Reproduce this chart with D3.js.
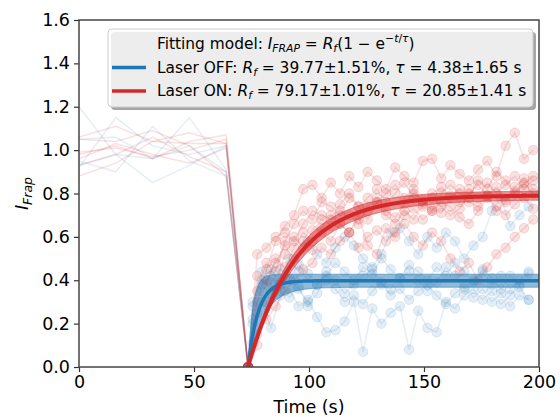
<!DOCTYPE html>
<html><head><meta charset="utf-8">
<script src="https://cdn.jsdelivr.net/npm/d3@7"></script>
<style>body{margin:0;background:#fff}svg{display:block}text{font-family:"DejaVu Sans",sans-serif}</style>
</head><body>
<svg id="c" width="560" height="417"></svg>
<script>
// ---------------- data ----------------
const preTimes = [0, 16, 32, 48, 64];
const bleachTime = 73.5;
const redPostTimes = [73.5,77.5,81.5,85.5,89.5,93.5,97.5,101.5,105.5,109.5,113.5,117.5,121.5,125.5,129.5,133.5,137.5,141.5,145.5,149.5,153.5,157.5,161.5,165.5,169.5,173.5,177.5,181.5,185.5,189.5,193.5,197.5];
const bluePostTimes = [73.5,75.5,79.5,83.5,87.5,91.5,95.5,99.5,103.5,107.5,111.5,115.5,119.5,123.5,127.5,131.5,135.5,139.5,143.5,147.5,151.5,155.5,159.5,163.5,167.5,171.5,175.5,179.5,183.5,187.5,191.5,195.5];

const bluePre = [
  [1.20, 0.98, 0.96, 1.02, 0.90],
  [1.05, 1.06, 0.96, 1.15, 0.91],
  [0.92, 1.15, 1.02, 0.98, 1.02],
  [0.95, 0.90, 1.11, 0.95, 0.88],
  [0.93, 0.98, 0.85, 0.93, 1.02]
];
const bluePost = [
  [0, 0.11, 0.30, 0.18, 0.33, 0.36, 0.28, 0.31, 0.23, 0.16, 0.17, 0.21, 0.30, 0.07, 0.27, 0.20, 0.25, 0.28, 0.08, 0.26, 0.18, 0.16, 0.30, 0.27, 0.33, 0.36, 0.31, 0.35, 0.29, 0.33, 0.37, 0.31],
  [0, 0.28, 0.40, 0.45, 0.38, 0.50, 0.44, 0.58, 0.52, 0.48, 0.55, 0.60, 0.56, 0.50, 0.46, 0.52, 0.62, 0.64, 0.58, 0.52, 0.60, 0.55, 0.62, 0.58, 0.50, 0.56, 0.60, 0.72, 0.78, 0.65, 0.70, 0.74],
  [0, 0.22, 0.38, 0.42, 0.35, 0.40, 0.36, 0.30, 0.38, 0.44, 0.40, 0.34, 0.38, 0.42, 0.45, 0.38, 0.36, 0.41, 0.44, 0.40, 0.35, 0.39, 0.46, 0.42, 0.36, 0.40, 0.44, 0.38, 0.42, 0.36, 0.40, 0.44],
  [0, 0.30, 0.44, 0.34, 0.40, 0.32, 0.37, 0.28, 0.34, 0.40, 0.36, 0.30, 0.33, 0.29, 0.35, 0.39, 0.33, 0.36, 0.31, 0.35, 0.38, 0.33, 0.29, 0.34, 0.37, 0.32, 0.36, 0.30, 0.34, 0.28, 0.33, 0.31],
  [0, 0.20, 0.35, 0.39, 0.45, 0.41, 0.47, 0.43, 0.38, 0.42, 0.48, 0.44, 0.40, 0.46, 0.43, 0.50, 0.45, 0.41, 0.47, 0.44, 0.40, 0.46, 0.42, 0.48, 0.44, 0.39, 0.45, 0.41, 0.36, 0.42, 0.38, 0.43]
];
const redPre = [
  [1.06, 1.11, 1.04, 1.03, 1.03],
  [0.98, 1.02, 0.96, 1.04, 1.07],
  [0.88, 0.94, 1.04, 1.08, 1.03],
  [0.99, 1.01, 0.97, 1.00, 1.05],
  [0.93, 0.98, 1.06, 0.97, 0.90],
  [1.05, 1.04, 1.09, 1.02, 0.88],
  [0.96, 1.03, 0.98, 0.94, 1.01]
];
const redPost = [
  [0, 0.52, 0.55, 0.60, 0.62, 0.58, 0.66, 0.72, 0.70, 0.68, 0.75, 0.80, 0.74, 0.78, 0.82, 0.76, 0.80, 0.85, 0.78, 0.74, 0.80, 0.83, 0.79, 0.76, 0.82, 0.78, 0.85, 0.80, 0.84, 0.88, 0.82, 0.86],
  [0, 0.30, 0.45, 0.58, 0.65, 0.70, 0.82, 0.84, 0.78, 0.85, 0.80, 0.88, 0.83, 0.90, 0.86, 0.82, 0.92, 0.88, 0.85, 0.95, 0.96, 0.87, 0.93, 0.89, 0.86, 0.91, 0.95, 0.88, 1.02, 1.08, 0.96, 1.00],
  [0, 0.15, 0.22, 0.28, 0.35, 0.40, 0.45, 0.48, 0.55, 0.52, 0.58, 0.62, 0.55, 0.60, 0.63, 0.58, 0.62, 0.66, 0.60, 0.56, 0.62, 0.58, 0.50, 0.44, 0.48, 0.40, 0.46, 0.52, 0.55, 0.60, 0.64, 0.68],
  [0, 0.10, 0.30, 0.38, 0.52, 0.60, 0.55, 0.63, 0.68, 0.65, 0.72, 0.70, 0.66, 0.74, 0.78, 0.72, 0.69, 0.75, 0.80, 0.77, 0.73, 0.71, 0.78, 0.82, 0.76, 0.74, 0.79, 0.83, 0.77, 0.81, 0.85, 0.80],
  [0, 0.42, 0.38, 0.50, 0.46, 0.55, 0.62, 0.58, 0.64, 0.70, 0.66, 0.62, 0.68, 0.72, 0.76, 0.70, 0.66, 0.72, 0.68, 0.75, 0.78, 0.74, 0.70, 0.73, 0.80, 0.84, 0.79, 0.72, 0.76, 0.83, 0.87, 0.82],
  [0, 0.25, 0.40, 0.48, 0.56, 0.50, 0.58, 0.54, 0.62, 0.58, 0.66, 0.62, 0.70, 0.56, 0.52, 0.64, 0.60, 0.70, 0.73, 0.68, 0.72, 0.76, 0.74, 0.69, 0.66, 0.72, 0.78, 0.74, 0.70, 0.75, 0.78, 0.73],
  [0, 0.35, 0.48, 0.44, 0.58, 0.66, 0.72, 0.68, 0.76, 0.74, 0.70, 0.78, 0.74, 0.68, 0.76, 0.80, 0.84, 0.78, 0.82, 0.76, 0.72, 0.80, 0.84, 0.80, 0.78, 0.86, 0.82, 0.90, 0.86, 0.80, 0.84, 0.88]
];
// fit parameters (from legend)
const fitOff = {R: 0.3977, dR: 0.0151, tau: 4.38, dTau: 1.65};
const fitOn  = {R: 0.7917, dR: 0.0101, tau: 20.85, dTau: 1.41};
const xTicks = [0, 50, 100, 150, 200];
const yTicks = [0, 0.2, 0.4, 0.6, 0.8, 1.0, 1.2, 1.4, 1.6];
const BLUE = "#1f77b4", RED = "#d62728";

// ---------------- chart ----------------
const svg = d3.select("#c");
const L = 79, R = 539, T = 20, B = 367;
const x = d3.scaleLinear().domain([0, 200]).range([L, R]);
const y = d3.scaleLinear().domain([0, 1.6]).range([B, T]);

svg.append("defs").append("clipPath").attr("id", "clip")
  .append("rect").attr("x", L).attr("y", T).attr("width", R - L).attr("height", B - T);
const plot = svg.append("g").attr("clip-path", "url(#clip)");
const line = d3.line().x(d => x(d[0])).y(d => y(d[1]));

function drawTraces(pre, post, postTimes, color, alpha) {
  pre.forEach((pv, i) => {
    const pts = preTimes.map((t, j) => [t, pv[j]])
      .concat(postTimes.map((t, j) => [t, post[i][j]]));
    plot.append("path").attr("d", line(pts)).attr("fill", "none")
      .attr("stroke", color).attr("stroke-opacity", alpha).attr("stroke-width", 1.5);
    plot.append("g").selectAll("circle").data(postTimes.map((t, j) => [t, post[i][j]]))
      .join("circle").attr("cx", d => x(d[0])).attr("cy", d => y(d[1])).attr("r", 4.8)
      .attr("fill", color).attr("fill-opacity", alpha)
      .attr("stroke", color).attr("stroke-opacity", alpha).attr("stroke-width", 1);
  });
}
drawTraces(bluePre, bluePost, bluePostTimes, BLUE, 0.12);
drawTraces(redPre, redPost, redPostTimes, RED, 0.14);

function fitVal(p, t, Rv, tau) { return t < bleachTime ? 0 : Rv * (1 - Math.exp(-(t - bleachTime) / tau)); }
const dense = d3.range(bleachTime, 200.01, 0.25);
function drawFit(p, color, lw, kR, kT) {
  const band = dense.map(t => {
    const vals = [];
    [p.R - kR * p.dR, p.R + kR * p.dR].forEach(Rv =>
      [p.tau - kT * p.dTau, p.tau + kT * p.dTau].forEach(tau => vals.push(fitVal(p, t, Rv, tau))));
    return [t, d3.min(vals), d3.max(vals)];
  });
  plot.append("path").attr("d", d3.area().x(d => x(d[0])).y0(d => y(d[1])).y1(d => y(d[2]))(band))
    .attr("fill", color).attr("fill-opacity", 0.5).attr("stroke", color).attr("stroke-opacity", 0.5).attr("stroke-width", 1);
  return () => plot.append("path").attr("d", line(dense.map(t => [t, fitVal(p, t, p.R, p.tau)])))
    .attr("fill", "none").attr("stroke", color).attr("stroke-width", lw);
}
const lineOff = drawFit(fitOff, BLUE, 3.5, 2, 1.4);
const lineOn = drawFit(fitOn, RED, 4, 2, 1);
lineOff(); lineOn();

// axes
const ax = svg.append("g").attr("transform", `translate(0,${B})`)
  .call(d3.axisBottom(x).tickValues(xTicks).tickSize(5).tickPadding(4).tickFormat(d3.format("d")));
const ay = svg.append("g").attr("transform", `translate(${L},0)`)
  .call(d3.axisLeft(y).tickValues(yTicks).tickSize(5).tickPadding(4).tickFormat(d3.format(".1f")));
[ax, ay].forEach(g => {
  g.select(".domain").remove();
  g.selectAll(".tick line").attr("stroke", "#333").attr("stroke-width", 1.2);
  g.selectAll(".tick text").attr("fill", "#000").style("font-size", "17.5px").style("font-family", "DejaVu Sans");
});
svg.append("rect").attr("x", L).attr("y", T).attr("width", R - L).attr("height", B - T)
  .attr("fill", "none").attr("stroke", "#444").attr("stroke-width", 1.5);

svg.append("text").attr("x", (L + R) / 2).attr("y", 413).attr("text-anchor", "middle")
  .style("font-size", "17.5px").text("Time (s)");
const yl = svg.append("text").attr("transform", `translate(28,${(T + B) / 2}) rotate(-90)`)
  .attr("text-anchor", "middle").style("font-size", "17.5px");
yl.append("tspan").style("font-style", "italic").text("I");
yl.append("tspan").style("font-style", "italic").style("font-size", "12.5px").attr("dy", 4).text("Frap");

// legend
const lg = svg.append("g");
const LX = 108, LY = 29, LW = 425, LH = 78;
lg.append("rect").attr("x", LX + 3).attr("y", LY + 3).attr("width", LW).attr("height", LH).attr("rx", 4)
  .attr("fill", "#4d4d4d").attr("fill-opacity", 0.5);
lg.append("rect").attr("x", LX).attr("y", LY).attr("width", LW).attr("height", LH).attr("rx", 4)
  .attr("fill", "#fff").attr("fill-opacity", 0.8).attr("stroke", "#ccc").attr("stroke-width", 1);
const fs = 15.4, ss = 10.8;
function seg(t, parts) {
  parts.forEach(p => {
    const s = t.append("tspan").text(p.s);
    if (p.i) s.style("font-style", "italic");
    if (p.size) s.style("font-size", p.size + "px");
    if (p.dy) s.attr("dy", p.dy);
  });
}
const tx = 157;
const t1 = lg.append("text").attr("x", tx).attr("y", 49).style("font-size", fs + "px");
seg(t1, [{s: "Fitting model: "}, {s: "I", i: 1}, {s: "FRAP", i: 1, size: ss, dy: 3}, {s: " = ", dy: -3},
  {s: "R", i: 1}, {s: "f", i: 1, size: ss, dy: 3}, {s: "(1 − e", dy: -3}, {s: "−", size: ss, dy: -7},
  {s: "t", i: 1, size: ss}, {s: "/", size: ss}, {s: "τ", i: 1, size: ss}, {s: ")", dy: 7}]);
const legRows = [
  {c: BLUE, y: 72.5, name: "Laser OFF: ", r: " = 39.77±1.51%, ", t: " = 4.38±1.65 s"},
  {c: RED, y: 96, name: "Laser ON: ", r: " = 79.17±1.01%, ", t: " = 20.85±1.41 s"}
];
legRows.forEach(row => {
  lg.append("line").attr("x1", 112).attr("x2", 146).attr("y1", row.y - 5).attr("y2", row.y - 5)
    .attr("stroke", row.c).attr("stroke-width", 3.5);
  const t = lg.append("text").attr("x", tx).attr("y", row.y).style("font-size", fs + "px");
  seg(t, [{s: row.name}, {s: "R", i: 1}, {s: "f", i: 1, size: ss, dy: 3}, {s: row.r, dy: -3},
    {s: "τ", i: 1}, {s: row.t}]);
});
</script>
</body></html>
